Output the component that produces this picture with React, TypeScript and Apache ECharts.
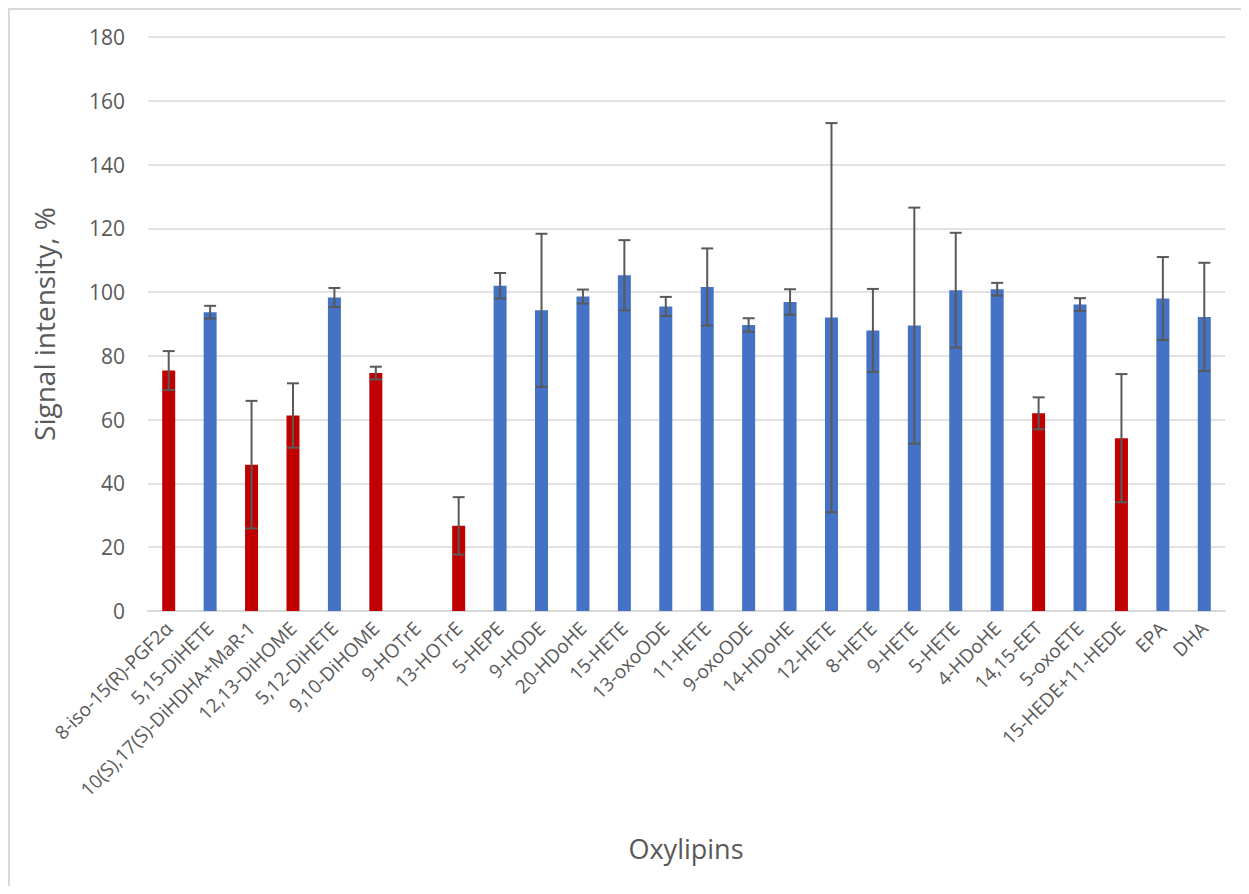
import React, { useEffect, useRef } from "react";
import * as echarts from "echarts";

const categories = [
  "8-iso-15(R)-PGF2α", "5,15-DiHETE", "10(S),17(S)-DiHDHA+MaR-1", "12,13-DiHOME", "5,12-DiHETE",
  "9,10-DiHOME", "9-HOTrE", "13-HOTrE", "5-HEPE", "9-HODE", "20-HDoHE", "15-HETE", "13-oxoODE",
  "11-HETE", "9-oxoODE", "14-HDoHE", "12-HETE", "8-HETE", "9-HETE", "5-HETE", "4-HDoHE",
  "14,15-EET", "5-oxoETE", "15-HEDE+11-HEDE", "EPA", "DHA",
];
const values = [
  75.4, 93.7, 45.9, 61.3, 98.3, 74.6, -1.0, 26.7, 102.0, 94.3, 98.6, 105.3, 95.5,
  101.6, 89.7, 96.9, 92.0, 88.0, 89.5, 100.6, 100.9, 62.0, 96.1, 54.2, 98.0, 92.2,
];
const errors = [
  6.1, 2.0, 20.0, 10.1, 3.0, 2.0, 0, 9.0, 4.0, 24.0, 2.2, 11.0, 3.0,
  12.1, 2.1, 4.0, 61.0, 13.0, 37.0, 18.0, 2.0, 5.0, 2.0, 20.1, 13.0, 17.0,
];
// true = reduced (red), false = not (blue)
const reduced = [
  true, false, true, true, false, true, false, true, false, false, false, false, false,
  false, false, false, false, false, false, false, false, true, false, true, false, false,
];
const yTicks = { min: 0, max: 180, interval: 20 };

const RED = "#C00000";
const BLUE = "#4472C4";
const TEXT = "#595959";
const GRID = "#D9D9D9";
const FONT = "'Open Sans', sans-serif";

export default function App() {
  const ref = useRef<HTMLDivElement>(null);
  useEffect(() => {
    if (!ref.current) return;
    const chart = echarts.init(ref.current, undefined, { renderer: "svg" });
    const barData = values.map((v, i) => ({
      value: v,
      itemStyle: { color: reduced[i] ? RED : v < 0 ? "#A9C0E8" : BLUE },
    }));
    const errData = values
      .map((v, i) => [i, v - errors[i], v + errors[i], errors[i]])
      .filter((d) => d[3] > 0);
    const lineStyle = { stroke: "#595959", lineWidth: 2 };
    chart.setOption({
      animation: false,
      textStyle: { fontFamily: FONT },
      grid: { left: 138, top: 27, right: 16, bottom: 275, containLabel: false },
      xAxis: {
        type: "category",
        data: categories,
        axisLine: { show: true, lineStyle: { color: GRID, width: 2 } },
        axisTick: { show: false },
        axisLabel: {
          interval: 0,
          rotate: 45,
          margin: 14,
          fontSize: 19,
          color: TEXT,
          fontFamily: FONT,
        },
      },
      yAxis: {
        type: "value",
        min: yTicks.min,
        max: yTicks.max,
        interval: yTicks.interval,
        axisLine: { show: false },
        axisTick: { show: false },
        splitLine: { show: true, lineStyle: { color: GRID, width: 1.5 } },
        axisLabel: {
          margin: 23,
          fontSize: 21,
          color: TEXT,
          fontFamily: FONT,
        },
      },
      graphic: [
        {
          type: "text",
          x: 34,
          y: 314,
          rotation: Math.PI / 2,
          style: {
            text: "Signal intensity, %",
            fontSize: 28,
            fill: TEXT,
            fontFamily: FONT,
            align: "center",
            verticalAlign: "middle",
          },
        },
        {
          type: "text",
          x: 676,
          y: 838,
          style: {
            text: "Oxylipins",
            fontSize: 27,
            fill: TEXT,
            fontFamily: FONT,
            align: "center",
            verticalAlign: "middle",
          },
        },
      ],
      series: [
        {
          type: "bar",
          data: barData,
          barWidth: 13,
          z: 3,
        },
        {
          type: "custom",
          data: errData,
          encode: { x: 0, y: [1, 2] },
          z: 5,
          renderItem: (params: any, api: any) => {
            const x = api.value(0);
            const lo = api.coord([x, api.value(1)]);
            const hi = api.coord([x, api.value(2)]);
            const half = 6;
            return {
              type: "group",
              children: [
                { type: "line", shape: { x1: hi[0], y1: hi[1], x2: lo[0], y2: lo[1] }, style: lineStyle },
                { type: "line", shape: { x1: hi[0] - half, y1: hi[1], x2: hi[0] + half, y2: hi[1] }, style: lineStyle },
                { type: "line", shape: { x1: lo[0] - half, y1: lo[1], x2: lo[0] + half, y2: lo[1] }, style: lineStyle },
              ],
            };
          },
        },
      ],
    });
    return () => chart.dispose();
  }, []);
  return (
    <div
      style={{
        width: 1233,
        height: 878,
        boxSizing: "border-box",
        borderTop: `2px solid ${GRID}`,
        borderLeft: `2px solid ${GRID}`,
        overflow: "hidden",
        background: "#fff",
      }}
    >
      <div ref={ref} style={{ width: 1231, height: 876 }} />
    </div>
  );
}
